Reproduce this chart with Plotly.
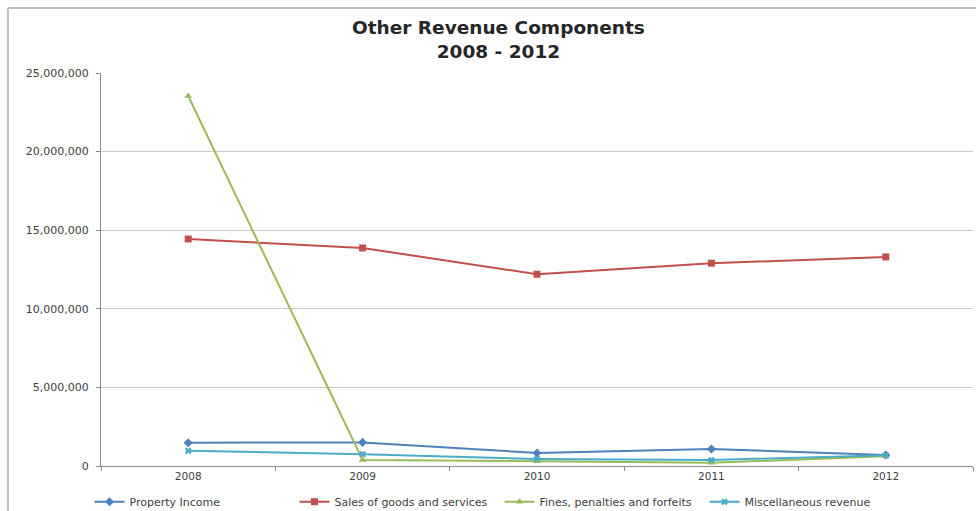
import plotly.graph_objects as go

years = ["2008", "2009", "2010", "2011", "2012"]
property_income = [1480000, 1500000, 830000, 1080000, 700000]
sales_goods_services = [14440000, 13870000, 12200000, 12900000, 13300000]
fines_penalties = [23540000, 380000, 300000, 200000, 620000]
misc_revenue = [970000, 750000, 450000, 380000, 680000]

y_ticks = [0, 5000000, 10000000, 15000000, 20000000, 25000000]
y_tick_text = ["0", "5,000,000", "10,000,000", "15,000,000", "20,000,000", "25,000,000"]

series = [
    ("Property Income", property_income, "#4F81BD", "diamond", 7),
    ("Sales of goods and services", sales_goods_services, "#C0504D", "square", 7),
    ("Fines, penalties and forfeits", fines_penalties, "#9BBB59", "triangle-up", 7),
    ("Miscellaneous revenue", misc_revenue, "#4BACC6", "x", 6),
]

fig = go.Figure()
for name, vals, color, symbol, size in series:
    fig.add_trace(go.Scatter(
        x=years, y=vals, name=name, mode="lines+markers",
        line=dict(color=color, width=2),
        marker=dict(symbol=symbol, size=size, color=color),
    ))

font_family = "DejaVu Sans"

fig.update_layout(
    width=976, height=511,
    margin=dict(l=101, r=3, t=73, b=45, autoexpand=False),
    paper_bgcolor="white", plot_bgcolor="white",
    font=dict(family=font_family, size=10, color="#404040"),
    showlegend=True,
    legend=dict(
        orientation="h", x=0.457, xanchor="center",
        yref="container", y=0.018, yanchor="middle",
        font=dict(size=11, color="#404040"), itemwidth=30, tracegroupgap=0,
        entrywidth=160, entrywidthmode="pixels",
        bgcolor="rgba(0,0,0,0)",
    ),
    xaxis=dict(
        type="category", range=[-0.5, 4.5],
        showline=True, linecolor="#8c8c8c", linewidth=1,
        ticks="outside", ticklen=4, tickcolor="#8c8c8c", tickson="boundaries",
        showgrid=False, tickfont=dict(size=10.5, color="#404040"), fixedrange=True,
    ),
    yaxis=dict(
        range=[0, 25000000], tickvals=y_ticks, ticktext=y_tick_text,
        showline=True, linecolor="#8c8c8c", linewidth=1,
        ticks="outside", ticklen=4, tickcolor="#8c8c8c", ticklabelstandoff=5,
        showgrid=True, gridcolor="#c8c8c8", gridwidth=1,
        zeroline=False, tickfont=dict(size=11, color="#404040"), fixedrange=True,
    ),
    annotations=[dict(
        text="<b>Other Revenue Components<br>2008 - 2012</b>",
        xref="paper", yref="paper", x=0.456, y=1.0865,
        xanchor="center", yanchor="middle", showarrow=False,
        font=dict(family=font_family, size=18.5, color="#262626"),
    )],
    shapes=[
        dict(type="line", xref="paper", yref="paper", x0=-0.1067, x1=-0.1067,
             y0=-0.3, y1=1.1654, line=dict(color="#bfbfbf", width=2)),
        dict(type="line", xref="paper", yref="paper", x0=-0.1067, x1=1.05,
             y0=1.1654, y1=1.1654, line=dict(color="#bfbfbf", width=2)),
    ],
)

fig.write_html("out.html")
